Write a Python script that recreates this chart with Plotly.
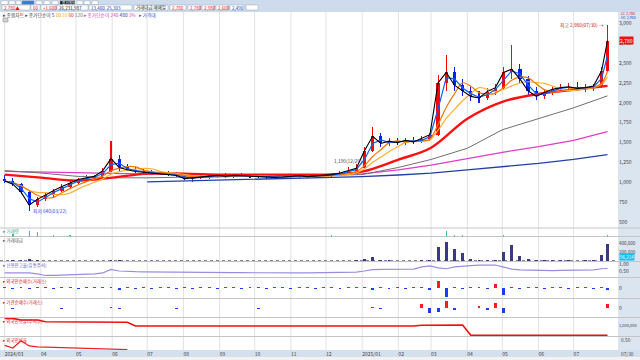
import pandas as pd
import plotly.graph_objects as go

# ---------------- data (weekly) ----------------
dates = list(pd.date_range("2024-03-01", periods=75, freq="7D"))
dates[-1] = pd.Timestamp("2025-07-30")

opens = [1040,1020,980,880,720,790,850,900,950,1000,1040,1060,1080,1150,1300,1190,1160,1140,1130,1120,
         1110,1100,1090,1050,1060,1070,1080,1090,1080,1090,1085,1080,1075,1070,1065,1070,1080,1085,1075,1085,
         1090,1100,1120,1150,1180,1400,1580,1490,1520,1500,1530,1510,1550,1600,2250,2380,2220,2150,2080,2060,
         2140,2190,2380,2420,2300,2150,2080,2130,2170,2190,2200,2180,2190,2210,2400]
highs = [1090,1060,1000,900,820,880,920,980,1020,1060,1090,1100,1180,1520,1350,1230,1190,1170,1160,1150,
         1140,1130,1110,1080,1090,1100,1110,1120,1110,1120,1110,1100,1100,1090,1090,1100,1110,1100,1100,1110,
         1120,1140,1190,1230,1450,1700,1620,1560,1560,1560,1570,1580,1620,2350,2600,2450,2300,2200,2150,2180,
         2230,2450,2730,2480,2330,2200,2160,2200,2230,2250,2260,2230,2240,2450,2980]
lows = [1000,960,860,640,690,770,820,880,930,980,1010,1030,1060,1130,1150,1140,1120,1110,1100,1090,
        1080,1070,1030,1010,1040,1050,1060,1060,1060,1070,1060,1060,1050,1050,1045,1050,1060,1060,1060,1070,
        1070,1080,1100,1120,1170,1380,1450,1460,1470,1470,1480,1490,1520,1590,2150,2150,2080,2020,2000,2040,
        2100,2170,2300,2250,2100,2040,2050,2100,2130,2150,2150,2140,2150,2190,2380]
closes = [1020,980,880,720,790,850,900,950,1000,1040,1060,1080,1150,1300,1190,1160,1140,1130,1120,1110,
          1100,1090,1050,1060,1070,1080,1090,1080,1090,1085,1080,1075,1070,1065,1070,1080,1085,1075,1085,1090,
          1100,1120,1150,1180,1400,1580,1490,1520,1500,1530,1510,1550,1600,2250,2380,2220,2150,2080,2060,2140,
          2190,2380,2420,2300,2150,2080,2130,2170,2190,2200,2180,2190,2210,2400,2780]

volume = [9000,14000,22000,35000,18000,9000,7000,6000,6000,5000,5000,6000,9000,
          30000,12000,6000,5000,4000,4000,3500,3500,3000,5000,4000,3500,3000,3000,3000,3500,3000,3000,3000,
          2500,2500,3000,3000,3000,2500,3000,3000,3500,5000,9000,12000,
          45000,85000,25000,12000,10000,9000,10000,12000,15000,
          310000,430000,260000,170000,40000,22000,15000,20000,210000,350000,120000,40000,25000,15000,14000,
          12000,12000,10000,12000,14000,140000,380000]

ma_dates = ["2024-03-01","2024-04-01","2024-05-01","2024-06-01","2024-07-01","2024-08-01","2024-09-01",
            "2024-10-01","2024-11-01","2024-12-01","2025-01-01","2025-02-01","2025-03-01","2025-04-01",
            "2025-05-01","2025-06-01","2025-07-01","2025-07-30"]
ma60 = [1100,1062,1025,1062,1112,1112,1100,1100,1100,1100,1137,1287,1437,1800,2012,2112,2162,2212]
ma120 = [1150,1120,1080,1060,1060,1070,1075,1085,1090,1090,1100,1190,1290,1430,1662,1800,1937,2087]
ma240 = [1140,1135,1125,1115,1105,1100,1095,1095,1095,1100,1110,1160,1220,1300,1380,1450,1530,1640]
ma480 = [None,None,None,None,1010,1020,1030,1040,1050,1060,1075,1095,1120,1160,1200,1240,1290,1350]

flag_weeks = [1,3,4,6,8,40,54,55,56,61,74]
flag_heights = [3,6,5,2,2,2,6,2,2,2,2]

credit_ratio = [0.36,0.36,0.35,0.36,0.30,0.18,0.18,0.20,0.25,0.26,0.28,0.30,0.36,0.61,0.50,0.46,0.45,0.44,
                0.43,0.43,0.42,0.42,0.41,0.40,0.40,0.39,0.39,0.38,0.38,0.38,0.37,0.37,0.37,0.36,0.37,0.37,
                0.36,0.37,0.37,0.38,0.39,0.39,0.40,0.42,0.50,0.60,0.61,0.62,0.62,0.63,0.63,0.80,0.86,0.72,
                0.66,0.80,0.86,0.88,0.92,0.93,0.93,0.78,0.64,0.58,0.56,0.54,0.54,0.53,0.54,0.55,0.55,0.56,
                0.58,0.66,0.68]

foreign_net = [1,-1,1,-1.2,1,1,-1,1,1,-1,1,1,1,
               1.5,-2.2,1,-1,1,-1,1,1,-1,1,-1,1,1,-1,1,1,-1,1,1,-1,1,1,-1,1,1,-1,1,1,-1,1,1,
               1.2,-1.5,1,-1,1,-1,1,1,-2.0,
               7.0,-8.5,1.5,-1.2,1,1,-1,4.0,-7.0,1,-1,1,1,-1,1,1,-1,1,1,-1,1.5,-2.0]
inst_net = [0,-0.5,0,0,0.5,0,0,-0.5,0,0,0,0.5,0,
            1,-1,0,0,0.5,0,0,0,-0.5,0,0,0,0,0.5,0,0,0,0,-0.5,0,0,0,0,0,0.5,0,0,0,0,0,0,
            0,1,-1,0.5,0,0,0,4.5,-5,
            -4,7.3,-2,0.5,0,2,-1.5,5,-5,0.5,0,0.5,0,0.5,0,0.5,0,0.5,0,0.5,0.5,4]
foreign_hold = [1780000,1780000,1610000,1610000,1610000,1440000,1440000,1430000,1430000,1420000,1420000,
                1410000,1410000,1400000,1400000,1390000,
                1000000,1000000,1000000,1000000,1000000,1000000,1000000,1000000,1000000,1000000,1000000,
                1000000,1000000,1000000,1000000,1000000,1000000,1000000,1000000,1000000,1000000,1000000,
                1000000,1000000,990000,990000,990000,990000,1000000,1000000,1000000,1000000,1000000,1000000,
                1000000,
                1080000,1080000,1090000,1090000,1100000,1100000,
                50000,50000,50000,50000,50000,50000,50000,50000,50000,50000,50000,50000,50000,50000,50000,
                50000,50000,50000]
foreign_ratio = [0.19,0.08,0.38,0.17,0.13,0.12,0.10,0.075,0.06,0.05,0.04,0.033,0.03,0.025,0.02,0.017]

month_ticks = ma_dates[:-1]
month_labels = ["2024/03","04","05","06","07","08","09","10","11","12",
                "2025/01","02","03","04","05","06","07"]
price_ticks = [500,750,1000,1250,1500,1750,2000,2250,2500,2750,3000]

# ---------------- helpers ----------------
FONT = "Noto Sans CJK KR, DejaVu Sans"
DAY = 86400000
def pyp(py):
    return (350 - py) / 338.0
XR = 1.0356

close_s = pd.Series(closes)
ma_black = close_s
ma_blue = close_s.rolling(2, min_periods=1).mean()
ma_orange = close_s.rolling(4, min_periods=1).mean()
ma_lorange = close_s.rolling(6, min_periods=1).mean()

up = [c >= o for o, c in zip(opens, closes)]
candle_colors = ["#ff0000" if u else "#0020ff" for u in up]
body_base = [min(o, c) for o, c in zip(opens, closes)]
body_len = [max(abs(c - o), 8) for o, c in zip(opens, closes)]
wick_len = [h - l for h, l in zip(highs, lows)]

fig = go.Figure()

# long MAs
fig.add_trace(go.Scatter(x=ma_dates, y=ma480, mode="lines", line=dict(color="#2440a8", width=1.3)))
fig.add_trace(go.Scatter(x=ma_dates, y=ma240, mode="lines", line=dict(color="#e23cc8", width=1.3)))
fig.add_trace(go.Scatter(x=ma_dates, y=ma120, mode="lines", line=dict(color="#707070", width=1)))
fig.add_trace(go.Scatter(x=ma_dates, y=ma60, mode="lines", line=dict(color="#ff1010", width=2.4, shape="spline")))
fig.add_trace(go.Scatter(x=dates, y=ma_lorange, mode="lines", line=dict(color="#ffb030", width=1.2, shape="spline")))
fig.add_trace(go.Scatter(x=dates, y=ma_orange, mode="lines", line=dict(color="#f07800", width=1.2, shape="spline")))

# candles (wicks + bodies)
fig.add_trace(go.Bar(x=dates, y=wick_len, base=lows, width=DAY * 0.9,
                     marker=dict(color=candle_colors, line=dict(width=0))))
fig.add_trace(go.Bar(x=dates, y=body_len, base=body_base, width=DAY * 2.8,
                     marker=dict(color=candle_colors, line=dict(width=0))))
fig.add_trace(go.Scatter(x=dates, y=ma_blue, mode="lines", line=dict(color="#1060ff", width=1.2)))
fig.add_trace(go.Scatter(x=dates, y=ma_black, mode="lines", line=dict(color="#000000", width=1.1)))

# green flags panel
fig.add_trace(go.Bar(x=[dates[i] for i in flag_weeks], y=flag_heights, yaxis="y2",
                     marker=dict(color="#3cc08c", line=dict(width=0)), width=DAY * 1.2))
# volume
fig.add_trace(go.Bar(x=dates, y=volume, yaxis="y3",
                     marker=dict(color="#3a3a82", line=dict(width=0)), width=DAY * 2.5))
# credit ratio line
fig.add_trace(go.Scatter(x=dates, y=credit_ratio, yaxis="y4", mode="lines",
                         line=dict(color="#9c8ce0", width=1.2)))
# foreign / institutional net buying
fig.add_trace(go.Bar(x=dates, y=foreign_net, yaxis="y5",
                     marker=dict(color=["#ff1a1a" if v > 0 else "#1a3cff" for v in foreign_net], line=dict(width=0)),
                     width=DAY * 2.5))
fig.add_trace(go.Bar(x=dates, y=inst_net, yaxis="y6",
                     marker=dict(color=["#ff1a1a" if v > 0 else "#1a3cff" for v in inst_net], line=dict(width=0)),
                     width=DAY * 2.5))
# foreign holdings
fig.add_trace(go.Scatter(x=dates, y=foreign_hold, yaxis="y7", mode="lines",
                         line=dict(color="#ee1010", width=1.6)))
# foreign ratio
fig.add_trace(go.Scatter(x=dates[:len(foreign_ratio)], y=foreign_ratio, yaxis="y8", mode="lines",
                         line=dict(color="#ee2020", width=1.2)))

# ---------------- shapes ----------------
shapes = []
shapes.append(dict(type="rect", xref="paper", yref="paper", x0=0, x1=XR, y0=1, y1=pyp(0),
                   fillcolor="#cddbec", line=dict(width=0), layer="below"))
shapes.append(dict(type="rect", xref="paper", yref="paper", x0=1, x1=XR, y0=pyp(357), y1=1,
                   fillcolor="#dbe5f0", line=dict(width=0), layer="below"))
shapes.append(dict(type="rect", xref="paper", yref="paper", x0=0, x1=XR, y0=pyp(357), y1=pyp(350),
                   fillcolor="#d3e0ee", line=dict(width=0), layer="below"))
shapes.append(dict(type="rect", xref="paper", yref="paper", x0=0, x1=XR, y0=pyp(360), y1=pyp(357),
                   fillcolor="#f2f2f2", line=dict(width=0), layer="below"))
for d in month_ticks:
    shapes.append(dict(type="line", xref="x", yref="paper", x0=d, x1=d, y0=pyp(350), y1=1,
                       line=dict(color="#e2e2e2", width=1), layer="below"))
for py in [228, 236.5, 261.5, 277.5, 298.5, 317.5, 336.5]:
    shapes.append(dict(type="line", xref="paper", yref="paper", x0=0, x1=XR, y0=pyp(py), y1=pyp(py),
                       line=dict(color="#c4c4c4", width=1), layer="below"))
shapes.append(dict(type="line", xref="paper", yref="paper", x0=0, x1=1, y0=pyp(260.5), y1=pyp(260.5),
                   line=dict(color="#8080a0", width=1, dash="dot"), layer="below"))
# toolbar boxes
for x0, x1, col in [(1, 8, "#ffffff"), (9, 15, "#ffffff"), (16, 21, "#ffffff"), (22, 34, "#3a78d8"),
                    (36, 42, "#ffffff"), (44, 50, "#ffffff"), (52, 58, "#ffffff"), (60, 75, "#202020"),
                    (77, 83, "#ffffff"), (84, 90, "#ffffff"), (92, 98, "#ffffff")]:
    shapes.append(dict(type="rect", xref="paper", yref="paper", x0=x0 / 618, x1=x1 / 618,
                       y0=pyp(4.5), y1=pyp(0.8), fillcolor=col, line=dict(color="#9aa8b8", width=0.5)))
for x0, x1 in [(2, 30), (31, 40), (41, 56), (57, 88), (89, 132), (134, 168), (170, 186), (188, 200),
               (202, 214), (216, 228), (230, 244), (246, 258)]:
    shapes.append(dict(type="rect", xref="paper", yref="paper", x0=x0 / 618, x1=x1 / 618,
                       y0=pyp(10), y1=pyp(5), fillcolor="#ffffff", line=dict(color="#9aa8b8", width=0.5)))
shapes.append(dict(type="rect", xref="paper", yref="paper", x0=3 / 618, x1=8 / 618,
                   y0=pyp(22), y1=pyp(18), fillcolor="#d0d0d0", line=dict(color="#888", width=0.5)))

# ---------------- annotations ----------------
ann = []
def txt(x, y, s, color="#333", size=5.5, xanchor="left", yanchor="middle", xref="paper", yref="paper",
        bg=None, **kw):
    d = dict(x=x, y=y, xref=xref, yref=yref, text=s, showarrow=False, xanchor=xanchor, yanchor=yanchor,
             font=dict(family=FONT, size=size, color=color), borderpad=0)
    if bg:
        d["bgcolor"] = bg
    d.update(kw)
    ann.append(d)

tb = pyp(7.5)
txt(3 / 618, tb, "2,780▲", "#e01010", 4.5)
txt(32 / 618, tb, "60", "#e01010", 4.5)
txt(42 / 618, tb, "+1.600", "#e01010", 4.5)
txt(58 / 618, tb, "26,231,987", "#222", 4.5)
txt(90 / 618, tb, "13,400  25,303", "#2040c0", 4.5)
txt(135 / 618, tb, "거래대금 매매일", "#222", 4.5)
txt(171 / 618, tb, "2,780", "#e01010", 4.5)
txt(189 / 618, tb, "2,780", "#e01010", 4.5)
txt(203 / 618, tb, "2,980", "#e01010", 4.5)
txt(217 / 618, tb, "2,600", "#e01010", 4.5)
txt(231 / 618, tb, "2,490", "#2040c0", 4.5)
txt(61 / 618, pyp(2.7), "통신장비", "#ffffff", 4)

legend = ("<span style='color:#444'>▸ 종합차트 ▸ 종가단순이</span> "
          "<span style='color:#2050ff'>5</span> <span style='color:#f08000'>10</span> "
          "<span style='color:#ffb030'>20</span> <span style='color:#ff2020'>60</span> "
          "<span style='color:#707070'>120</span> "
          "<span style='color:#e23cc8'>▸ 종가단순이 240</span> <span style='color:#2440a8'>480</span> "
          "<span style='color:#e23cc8'>1%</span>   <span style='color:#3050e0'>▸ 가격대</span>")
txt(2 / 618, pyp(15), legend, size=4.8)

# price-panel labels
imin = lows.index(min(lows))
imax = highs.index(max(highs))
txt(dates[imin], lows[imin], f"최저 {lows[imin]:,}({dates[imin]:%m/%d})", "#2a3cff", 4.8,
    xref="x", yref="y", xshift=3)
txt(dates[imax], highs[imax], f"최고 {highs[imax]:,}({dates[imax]:%m/%d}) →", "#e01010", 4.8,
    xanchor="right", xref="x", yref="y", xshift=-2)
txt(dates[42], highs[42], f"{highs[42]:,}({dates[42]:%m/%d})", "#404040", 4.8,
    xanchor="center", yanchor="bottom", xref="x", yref="y", yshift=2)

# axis-side boxes
txt(1.0, closes[-1], f"{closes[-1]:,}", "#ffffff", 5, xref="paper", yref="y", bg="#f01010", xshift=1)
txt(1.003, pyp(13.2), "LC 2,780", "#e01010", 3.6)
txt(1.003, pyp(17.6), "HC 2,980", "#2050e0", 3.6)
txt(1.0, pyp(257), "96,214", "#ffffff", 4.5, bg="#10c0f0", xshift=1)
txt(1.003, pyp(339), "0.50", "#444", 4.8)
txt(1.003, pyp(353.5), "07/30", "#444", 4.8)

# panel titles
for py, s, c in [(231, "▸ 거래량", "#40a890"), (240, "▸ 거래대금", "#555"),
                 (265, "▸ 신용잔고율(유통주식)", "#6a58c8"), (281, "▸ 외국인순매수(거래소)", "#e02020"),
                 (302, "▸ 기관순매수(거래소)", "#e02020"), (321, "▸ 외국인보유(주식수)", "#e02020"),
                 (340, "▸ 외국인비율", "#e02020")]:
    txt(2 / 618, pyp(py), s, c, 4.5)

# ---------------- layout ----------------
def yax(domain, rng, tickvals=None, ticktext=None, size=5):
    d = dict(domain=domain, range=rng, side="right", showgrid=False, zeroline=False, ticks="",
             showline=False, anchor="x", tickfont=dict(family=FONT, size=size, color="#444"))
    if tickvals is None:
        d["showticklabels"] = False
    else:
        d["tickvals"] = tickvals
        d["ticktext"] = ticktext
    return d

fig.update_layout(
    width=640, height=360, margin=dict(l=0, r=22, t=12, b=10),
    paper_bgcolor="#ffffff", plot_bgcolor="#ffffff",
    showlegend=False, bargap=0, barmode="overlay", hovermode=False,
    font=dict(family=FONT, size=6),
    xaxis=dict(type="date", range=["2024-02-26", "2025-08-08"], anchor="y8", domain=[0, 1],
               tickvals=month_ticks, ticktext=month_labels, ticklabelposition="outside right",
               tickfont=dict(family=FONT, size=5, color="#444"), ticks="", showgrid=False,
               zeroline=False, showline=False),
    yaxis=yax([pyp(227.5), 1], [437.5, 3137.5], price_ticks, [f"{v:,}" for v in price_ticks]),
    yaxis2=yax([pyp(236.5), pyp(228.5)], [0, 8]),
    yaxis3=yax([pyp(261), pyp(237)], [0, 533000], [200000, 400000], ["200,000", "400,000"], 4.5),
    yaxis4=yax([pyp(277), pyp(262)], [0.071, 1.143], [0.5, 1.0], ["0.50", "1.00"]),
    yaxis5=yax([pyp(298), pyp(278)], [-10, 10], [0], ["0"]),
    yaxis6=yax([pyp(317), pyp(299)], [-9, 9], [0], ["0"]),
    yaxis7=yax([pyp(336), pyp(318)], [-21500, 1817200], [1000000], ["1,000,000"], 4),
    yaxis8=yax([0, pyp(337)], [0, 0.54]),
    shapes=shapes, annotations=ann,
)

fig.write_html("out.html", config={"displayModeBar": False, "staticPlot": True},
               post_script="document.body.style.margin='0';document.body.style.overflow='hidden';")
